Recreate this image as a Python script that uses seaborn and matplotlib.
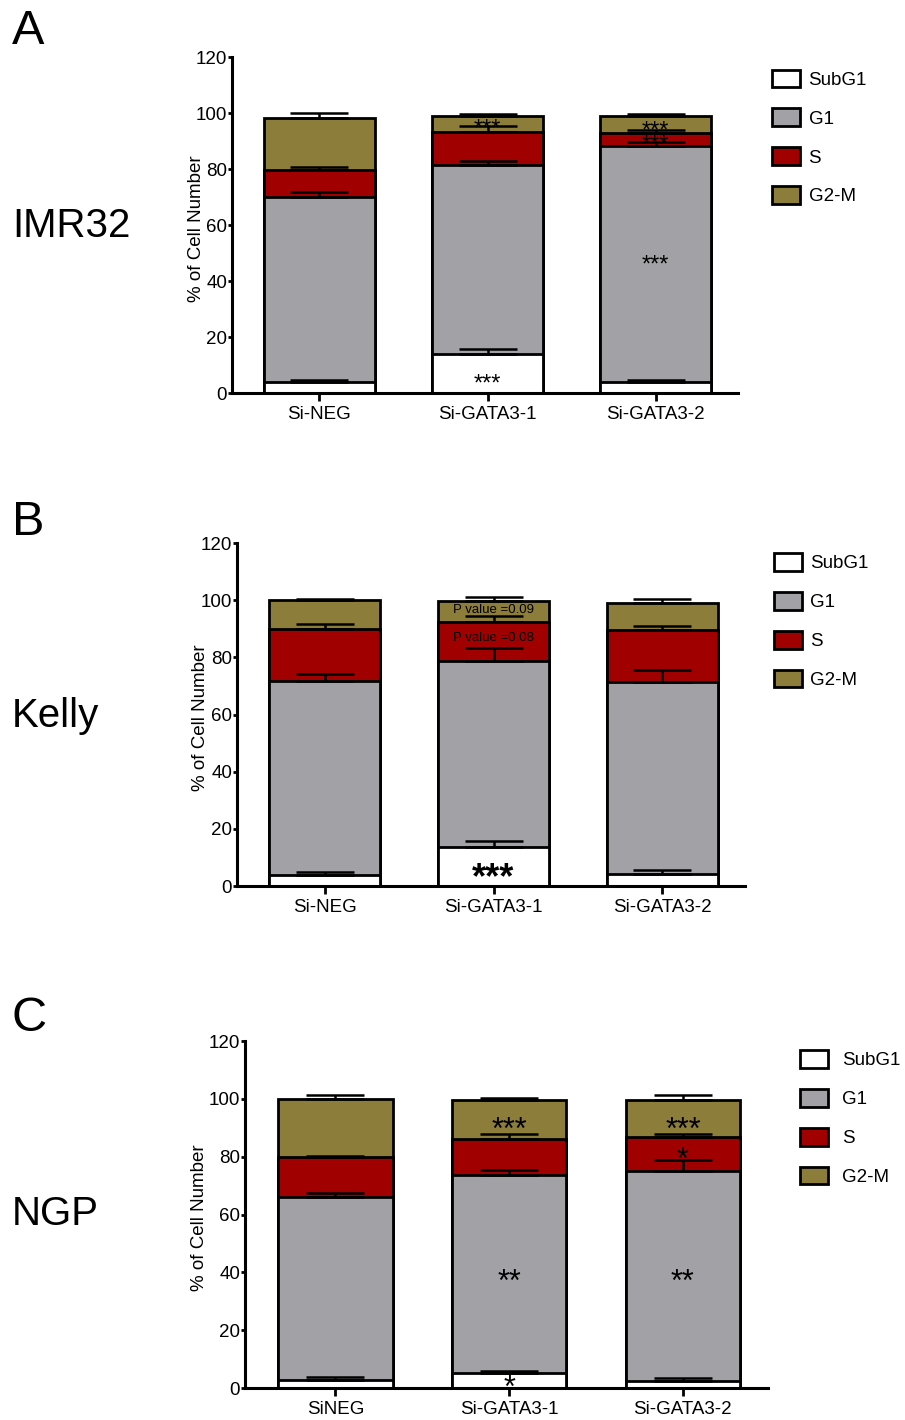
import numpy as np
import pandas as pd
import matplotlib
matplotlib.use("Agg")
import matplotlib.pyplot as plt
import seaborn as sns
from matplotlib.patches import Patch

sns.set_style("white")
plt.rcParams['font.family'] = ['Liberation Sans', 'DejaVu Sans']
plt.rcParams['text.color'] = 'black'
plt.rcParams['axes.labelcolor'] = 'black'
plt.rcParams['xtick.color'] = 'black'
plt.rcParams['ytick.color'] = 'black'

phases = ["SubG1", "G1", "S", "G2-M"]
phase_colors = ["#FFFFFF", "#A2A1A6", "#A00000", "#8C7D3A"]

# Panel A - IMR32
a_samples = ["Si-NEG", "Si-GATA3-1", "Si-GATA3-2"]
a_subg1 = [4.0, 14.1, 4.0]
a_g1 = [66.2, 67.5, 84.3]
a_s = [9.5, 11.6, 4.7]
a_g2m = [18.5, 5.6, 5.8]
a_subg1_err = [0.6, 1.6, 0.8]
a_g1_err = [1.6, 1.3, 1.3]
a_s_err = [1.0, 2.2, 0.8]
a_g2m_err = [1.8, 0.8, 1.0]
a_notes = [("Si-GATA3-1", 6.0, "***"), ("Si-GATA3-1", 97.1, "***"),
           ("Si-GATA3-2", 96.2, "***"), ("Si-GATA3-2", 91.2, "***"),
           ("Si-GATA3-2", 48.3, "***")]

# Panel B - Kelly
b_samples = ["Si-NEG", "Si-GATA3-1", "Si-GATA3-2"]
b_subg1 = [3.9, 13.8, 4.2]
b_g1 = [67.7, 65.1, 67.2]
b_s = [18.5, 13.4, 18.3]
b_g2m = [9.9, 7.6, 9.4]
b_subg1_err = [1.1, 2.1, 1.6]
b_g1_err = [2.6, 4.4, 4.1]
b_s_err = [1.6, 2.3, 1.4]
b_g2m_err = [0.6, 1.1, 1.5]
b_notes = [("Si-GATA3-1", 6.8, "***"), ("Si-GATA3-1", 97.1, "P value =0.09"),
           ("Si-GATA3-1", 87.4, "P value =0.08")]

# Panel C - NGP
c_samples = ["SiNEG", "Si-GATA3-1", "Si-GATA3-2"]
c_subg1 = [2.9, 5.2, 2.6]
c_g1 = [63.0, 68.5, 72.6]
c_s = [13.9, 12.5, 11.6]
c_g2m = [20.2, 13.3, 12.9]
c_subg1_err = [0.8, 0.6, 0.9]
c_g1_err = [1.7, 1.8, 3.6]
c_s_err = [0.6, 1.8, 1.2]
c_g2m_err = [1.4, 0.8, 1.7]
c_notes = [("Si-GATA3-1", 92.4, "***"), ("Si-GATA3-2", 92.4, "***"),
           ("Si-GATA3-2", 82.1, "*"), ("Si-GATA3-1", 40.1, "**"),
           ("Si-GATA3-2", 40.1, "**"), ("Si-GATA3-1", 3.4, "*")]

panels = [
    dict(letter="A", line="IMR32", samples=a_samples,
         vals=[a_subg1, a_g1, a_s, a_g2m],
         errs=[a_subg1_err, a_g1_err, a_s_err, a_g2m_err], notes=a_notes,
         rect=[0.2564, 0.7232, 0.559, 0.2366], star_fs=17, star_bold=False,
         letter_y=0.9935, line_y=0.841, ylab_x=-0.053,
         leg=(0.853, 0.951), leg_pad=0.45),
    dict(letter="B", line="Kelly", samples=b_samples,
         vals=[b_subg1, b_g1, b_s, b_g2m],
         errs=[b_subg1_err, b_g1_err, b_s_err, b_g2m_err], notes=b_notes,
         rect=[0.2619, 0.376, 0.5613, 0.2415], star_fs=26, star_bold=True,
         letter_y=0.648, line_y=0.496, ylab_x=-0.055,
         leg=(0.855, 0.6105), leg_pad=0.45),
    dict(letter="C", line="NGP", samples=c_samples,
         vals=[c_subg1, c_g1, c_s, c_g2m],
         errs=[c_subg1_err, c_g1_err, c_s_err, c_g2m_err], notes=c_notes,
         rect=[0.2707, 0.0225, 0.578, 0.2444], star_fs=22, star_bold=False,
         letter_y=0.2985, line_y=0.145, ylab_x=-0.071,
         leg=(0.884, 0.2605), leg_pad=0.75),
]

fig = plt.figure(figsize=(9.05, 14.2), dpi=100)
bar_w = 0.66

for p in panels:
    ax = fig.add_axes(p["rect"])
    vals = np.array(p["vals"])
    tops = np.cumsum(vals, axis=0)
    df = pd.DataFrame({
        "sample": np.tile(p["samples"], len(phases)),
        "phase": np.repeat(phases, len(p["samples"])),
        "top": tops.ravel(),
        "err": np.array(p["errs"]).ravel(),
    })
    # draw cumulative tops from highest to lowest so segments stack
    for ph, col in reversed(list(zip(phases, phase_colors))):
        sub = df[df["phase"] == ph]
        sns.barplot(data=sub, x="sample", y="top", order=p["samples"],
                    color=col, saturation=1, width=bar_w, errorbar=None,
                    edgecolor="black", linewidth=2, ax=ax)
    xpos = [p["samples"].index(s) for s in df["sample"]]
    ax.errorbar(xpos, df["top"], yerr=[np.zeros(len(df)), df["err"]],
                fmt="none", ecolor="black", elinewidth=1.8, capsize=21,
                capthick=1.8, zorder=5)

    for s, y, txt in p["notes"]:
        if txt.startswith("P"):
            fs, dy, fw = 9.5, -0.36 * 9.5, "normal"
        else:
            fs = p["star_fs"]
            dy = -0.60 * fs
            fw = "bold" if p["star_bold"] else "normal"
        ax.annotate(txt, (p["samples"].index(s), y), xytext=(0, dy),
                    textcoords="offset points", ha="center", va="baseline",
                    fontsize=fs, fontweight=fw, color="black", zorder=6)

    ax.set_xlim(-0.52, 2.49)
    ax.set_ylim(0, 120)
    ax.set_yticks(np.arange(0, 121, 20))
    ax.set_xlabel("")
    ax.set_ylabel("% of Cell Number", fontsize=13.5)
    ax.yaxis.set_label_coords(p["ylab_x"], 0.49)
    for side in ["top", "right"]:
        ax.spines[side].set_visible(False)
    for side in ["left", "bottom"]:
        ax.spines[side].set_linewidth(2.2)
        ax.spines[side].set_color("black")
    ax.tick_params(axis="y", direction="out", length=3, width=2,
                   pad=0.5, labelsize=13.5, left=True, color="black")
    ax.tick_params(axis="x", direction="out", length=6, width=2,
                   pad=3, labelsize=13.5, bottom=True, color="black")

    fig.text(0.013, p["letter_y"], p["letter"], fontsize=35, va="top", ha="left")
    fig.text(0.013, p["line_y"], p["line"], fontsize=29, va="center", ha="left")

    handles = [Patch(facecolor=c, edgecolor="black", linewidth=2) for c in phase_colors]
    fig.legend(handles, phases, loc="upper left", bbox_to_anchor=p["leg"],
               bbox_transform=fig.transFigure, frameon=False, fontsize=13.5,
               handlelength=1.5, handleheight=1.07, labelspacing=1.05,
               handletextpad=p["leg_pad"], borderpad=0, borderaxespad=0)

fig.savefig("out.png", dpi=100, facecolor="white")
